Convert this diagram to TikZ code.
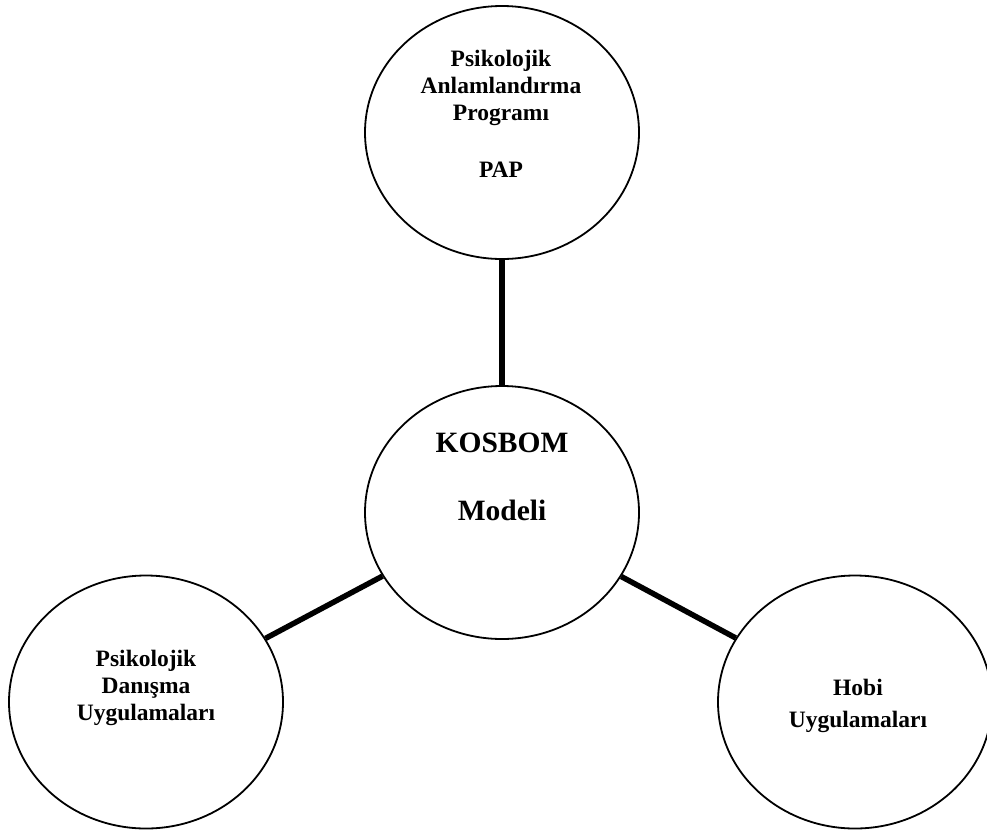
\documentclass[tikz,border=0pt]{standalone}
\usepackage{fontspec}
\setmainfont{Liberation Serif}
\usetikzlibrary{shapes,positioning}

\tikzset{
    halka/.style={draw=black,line width=1.8pt,ellipse,minimum width=274pt,minimum height=253pt,inner sep=0pt},
    yazi/.style={align=center,font=\bfseries\fontsize{23.5}{27}\selectfont,inner sep=0pt,anchor=base},
    buyukyazi/.style={align=center,font=\bfseries\fontsize{29.5}{34}\selectfont,inner sep=0pt,anchor=base},
    bag/.style={line width=5.5pt}
}

\begin{document}
\begin{tikzpicture}[x=1pt,y=-1pt]
    \useasboundingbox (0,0) rectangle (987,830);

    % halkalar
    \node[halka] (pap) at (502,132.5) {};
    \node[halka] (kosbom) at (502,512.5) {};
    \node[halka] (pdu) at (146,702) {};
    \node[halka] (hobi) at (855,702) {};

    % yazilar (base = son satir)
    \node[yazi] (papyazi) at (501,177) {Psikolojik\\Anlamlandırma\\Programı\\[30pt]PAP};
    \node[buyukyazi] (kosbomyazi) at (502,520) {KOSBOM\\[34pt]Modeli};
    \node[yazi] (pduyazi) at (146,720) {Psikolojik\\Danışma\\Uygulamaları};
    \node[yazi] (hobiyazi) at (858,727) {Hobi\\[5pt]Uygulamaları};

    \foreach \n in {pap,pdu,hobi}{
        \draw[bag] (kosbom) -- (\n);
    }
\end{tikzpicture}
\end{document}
